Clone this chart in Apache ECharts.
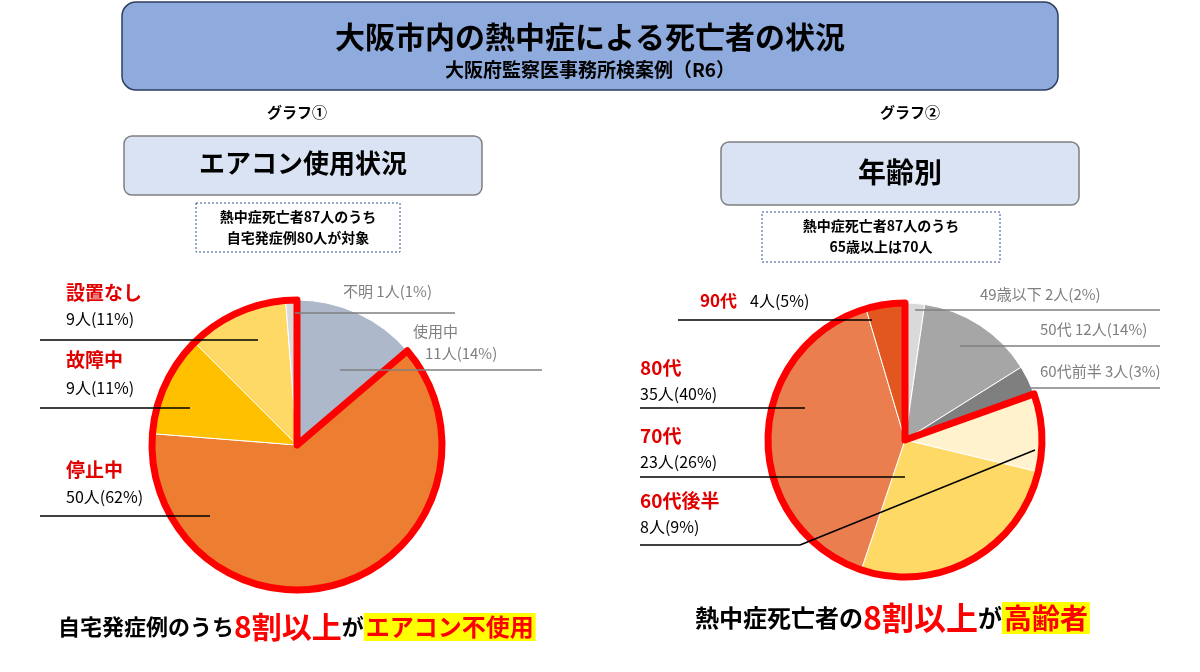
<!DOCTYPE html>
<html><head><meta charset="utf-8">
<script src="https://cdn.jsdelivr.net/npm/echarts@6/dist/echarts.min.js"></script>
<style>html,body{margin:0;padding:0;background:#fff}#c{width:1200px;height:672px}</style>
</head><body><div id="c"></div>
<script>
const F='"Noto Sans CJK JP","Noto Sans",sans-serif';
const acNames=['使用中','停止中','故障中','設置なし','不明'];
const acValues=[11,50,9,9,1];
const acColors=['#adb9ca','#ed7d31','#ffc000','#ffd966','#d9d9d9'];
const ageNames=['49歳以下','50代','60代前半','60代後半','70代','80代','90代'];
const ageValues=[2,12,3,8,23,35,4];
const ageColors=['#d9d9d9','#a6a6a6','#7f7f7f','#fff2cc','#ffd966','#ea7e4e','#e2561f'];
const acNotUsing=69, ageElderly=70;
const chart=echarts.init(document.getElementById('c'));
function pieData(n,v,c){return n.map((x,i)=>({name:x,value:v[i],itemStyle:{color:c[i]}}));}
function t(x,y,text,size,color,weight,align){return {type:'text',left:x,top:y,style:{text:text,font:(weight||'normal')+' '+size+'px '+F,fill:color||'#000',textAlign:align||'left'}};}
function ln(x1,y1,x2,y2,c){return {type:'line',shape:{x1,y1,x2,y2},style:{stroke:c||'#000',lineWidth:1.5},z:10};}
function box(x,y,w,h,fill,stroke,dash,r){return {type:'rect',shape:{x,y,width:w,height:h,r:r||0},style:{fill:fill,stroke:stroke,lineWidth:dash?1:1.5,lineDash:dash?[2,2]:null}};}
const G=[
 box(122,2,936,88,'#8faadc','#2f3f60',false,14),
 {type:'text',x:590,y:22,style:{text:'大阪市内の熱中症による死亡者の状況',font:'bold 30px '+F,fill:'#000',align:'center'}},
 {type:'text',x:590,y:60,style:{text:'大阪府監察医事務所検案例（R6）',font:'bold 19px '+F,fill:'#000',align:'center'}},
 {type:'text',x:297,y:105,style:{text:'グラフ①',font:'bold 15px '+F,fill:'#000',align:'center'}},
 {type:'text',x:910,y:105,style:{text:'グラフ②',font:'bold 15px '+F,fill:'#000',align:'center'}},
 box(124,136,358,59,'#dae3f3','#7f7f7f',false,8),
 {type:'text',x:303,y:150,style:{text:'エアコン使用状況',font:'bold 26px '+F,fill:'#000',align:'center'}},
 box(721,142,358,63,'#dae3f3','#7f7f7f',false,8),
 {type:'text',x:900,y:158,style:{text:'年齢別',font:'bold 28px '+F,fill:'#000',align:'center'}},
 box(196,203,204,49,'#fff','#2f5597',true),
 {type:'text',x:298,y:206,style:{text:'熱中症死亡者87人のうち\n自宅発症例80人が対象',font:'bold 14px '+F,fill:'#000',align:'center',lineHeight:21}},
 box(762,212,238,50,'#fff','#2f5597',true),
 {type:'text',x:881,y:215,style:{text:'熱中症死亡者87人のうち\n65歳以上は70人',font:'bold 14px '+F,fill:'#000',align:'center',lineHeight:21}},
 t(66,283,'設置なし',19,'#e00000','bold'), t(66,311,'9人(11%)',16), ln(40,340,258,340),
 t(66,350,'故障中',19,'#e00000','bold'), t(66,380,'9人(11%)',16), ln(40,408,190,408),
 t(66,460,'停止中',19,'#e00000','bold'), t(66,489,'50人(62%)',16), ln(40,516,210,516),
 t(343,284,'不明 1人(1%)',15,'#7f7f7f'), ln(295,313,455,313,'#7f7f7f'),
 t(413,324,'使用中',15,'#7f7f7f'), t(425,346,'11人(14%)',15,'#7f7f7f'), ln(340,370,542,370,'#7f7f7f'),
 t(700,292,'90代',17,'#e00000','bold'), t(750,293,'4人(5%)',16), ln(678,320,872,320),
 t(640,358,'80代',19,'#e00000','bold'), t(640,386,'35人(40%)',16), ln(640,408,805,408),
 t(640,426,'70代',19,'#e00000','bold'), t(640,454,'23人(26%)',16), ln(640,477,905,477),
 t(640,491,'60代後半',19,'#e00000','bold'), t(640,519,'8人(9%)',16), ln(640,545,800,545), ln(800,545,1035,450),
 t(980,287,'49歳以下 2人(2%)',15,'#7f7f7f'), ln(915,310,1160,310,'#7f7f7f'),
 t(1040,322,'50代 12人(14%)',15,'#7f7f7f'), ln(960,346,1160,346,'#7f7f7f'),
 t(1040,364,'60代前半 3人(3%)',15,'#7f7f7f'), ln(1025,388,1160,388,'#7f7f7f'),
 {type:'text',left:58,top:612,style:{rich:{a:{font:'bold 22px '+F,fill:'#000'},b:{font:'bold 30px '+F,fill:'#ff0000'},c:{font:'bold 24px '+F,fill:'#ff0000',backgroundColor:'#ffff00',padding:[2,2]}},text:'{a|自宅発症例のうち}{b|8割以上}{a|が}{c|エアコン不使用}'}},
 {type:'text',left:695,top:602,style:{rich:{a:{font:'bold 24px '+F,fill:'#000'},b:{font:'bold 32px '+F,fill:'#ff0000'},c:{font:'bold 28px '+F,fill:'#ff0000',backgroundColor:'#ffff00',padding:[2,2]}},text:'{a|熱中症死亡者の}{b|8割以上}{a|が}{c|高齢者}'}}
];
chart.setOption({
 animation:false,
 graphic:G,
 series:[
  {type:'pie',center:[297,445],radius:[0,145],startAngle:90,label:{show:false},labelLine:{show:false},itemStyle:{borderColor:'#fff',borderWidth:1},data:pieData(acNames,acValues,acColors),z:1},
  {type:'pie',center:[297,445],radius:[0,145],startAngle:90,silent:true,label:{show:false},z:2,
   data:[{value:acValues[0],itemStyle:{color:'transparent',borderWidth:0}},{value:acNotUsing,itemStyle:{color:'transparent',borderColor:'#ff0000',borderWidth:7}}]},
  {type:'pie',center:[905,440],radius:[0,137],startAngle:90,label:{show:false},labelLine:{show:false},itemStyle:{borderColor:'#fff',borderWidth:1},data:pieData(ageNames,ageValues,ageColors),z:1},
  {type:'pie',center:[905,440],radius:[0,137],startAngle:90,silent:true,label:{show:false},z:2,
   data:[{value:ageValues[0]+ageValues[1]+ageValues[2],itemStyle:{color:'transparent',borderWidth:0}},{value:ageElderly,itemStyle:{color:'transparent',borderColor:'#ff0000',borderWidth:7}}]}
 ]
});
</script></body></html>
